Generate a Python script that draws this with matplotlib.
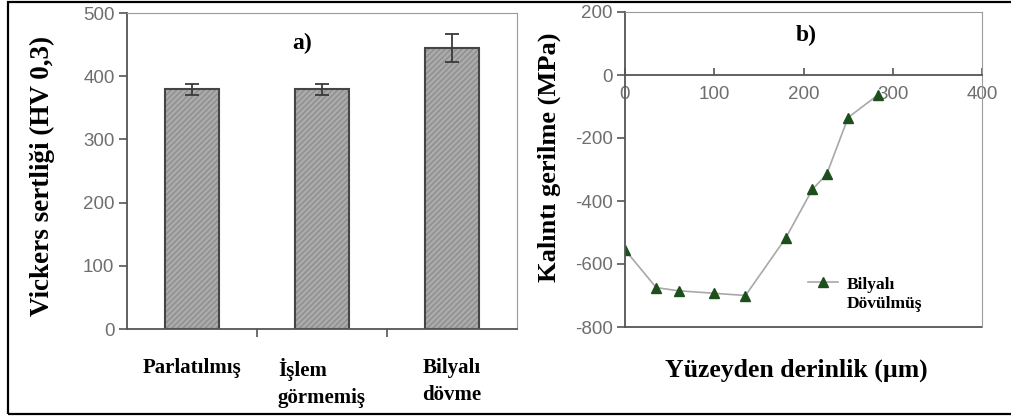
import numpy as np
import matplotlib
matplotlib.use("Agg")
from matplotlib import pyplot as plt
from matplotlib.patches import Rectangle
from matplotlib.lines import Line2D

# a) sertlik verisi
categories = ["Parlatılmış", "İşlem\ngörmemiş", "Bilyalı\ndövme"]
hardness = [379, 379, 445]
hardness_err = [8, 9, 22]

# b) kalıntı gerilme verisi
depth = [0, 35, 60, 100, 135, 180, 210, 226, 250, 284]
stress = [-555, -675, -685, -693, -700, -518, -363, -315, -135, -62]

plt.rcParams["axes.unicode_minus"] = False
serif = ["Liberation Serif", "DejaVu Serif"]
sans = ["Liberation Sans", "DejaVu Sans"]
tick_col = "#6e6e6e"

fig = plt.figure(figsize=(10.11, 4.16), dpi=100)

# dis cerceve
fig.patches.append(Rectangle((8 / 1011, 2 / 416), 1.1, 412 / 416, transform=fig.transFigure,
                             fill=False, edgecolor="black", linewidth=1.6))

# ---- a) ----
ax1 = fig.add_axes([127 / 1011, 87 / 416, 390 / 1011, 316 / 416])
x = np.arange(len(categories))
ax1.bar(x, hardness, width=0.41, color="#ababab", edgecolor="#8e8e8e", hatch="//////", linewidth=0)
ax1.bar(x, hardness, width=0.41, fill=False, edgecolor="#454545", linewidth=1.5)
ax1.errorbar(x, hardness, yerr=hardness_err, fmt="none", ecolor="#3a3a3a", elinewidth=1.3,
             capsize=5, capthick=1.3)
ax1.set_xlim(-0.5, 2.5)
ax1.set_ylim(0, 500)
ax1.set_yticks(np.arange(0, 501, 100))
ax1.set_xticks(x)
ax1.set_xticklabels(categories, family=serif, fontweight="bold", fontsize=15,
                    multialignment="left", va="top", linespacing=1.45)
ax1.set_xticks([0.5, 1.5], minor=True)
ax1.tick_params(axis="x", which="major", length=0, pad=21)
ax1.tick_params(axis="x", which="minor", length=6, width=1.2, color="#555555", direction="out")
ax1.tick_params(axis="y", length=6, width=1.2, color="#555555", labelcolor=tick_col, labelsize=13.5, pad=3)
for lab in ax1.get_yticklabels():
    lab.set_family(sans)
ax1.spines["left"].set_color("#555555")
ax1.spines["bottom"].set_color("#555555")
ax1.spines["left"].set_linewidth(1.3)
ax1.spines["bottom"].set_linewidth(1.3)
ax1.spines["top"].set_color("#9a9a9a")
ax1.spines["right"].set_color("#9a9a9a")
ax1.set_ylabel("Vickers sertliği (HV 0,3)", family=serif, fontweight="bold", fontsize=19.5)
ax1.yaxis.set_label_coords(-0.185, 0.484)
ax1.text(0.449, 0.905, "a)", transform=ax1.transAxes, ha="center", va="center",
         family=serif, fontweight="bold", fontsize=17)

# ---- b) ----
ax2 = fig.add_axes([625 / 1011, 89 / 416, 357 / 1011, 315 / 416])
ax2.plot(depth, stress, color="#a8a8a8", linewidth=1.2, marker="^", markersize=7,
         markerfacecolor="#1d4f1d", markeredgecolor="#1d4f1d", label="Bilyalı")
ax2.set_xlim(0, 400)
ax2.set_ylim(-800, 200)
ax2.set_xticks(np.arange(0, 401, 100))
ax2.set_yticks(np.arange(-800, 201, 200))
ax2.spines["bottom"].set_position(("data", 0))
ax2.spines["bottom"].set_color("#555555")
ax2.spines["bottom"].set_linewidth(1.3)
ax2.spines["left"].set_color("#555555")
ax2.spines["left"].set_linewidth(1.3)
ax2.spines["top"].set_color("#9a9a9a")
ax2.spines["right"].set_color("#9a9a9a")
ax2.add_line(Line2D([0, 1], [0, 0], transform=ax2.transAxes, color="#555555", linewidth=1.3,
                    clip_on=False))
ax2.tick_params(axis="x", direction="in", length=5, width=1.2, color="#555555",
                labelcolor=tick_col, labelsize=13.5, pad=8)
ax2.tick_params(axis="y", length=6, width=1.2, color="#555555", labelcolor=tick_col, labelsize=13.5, pad=3)
for lab in ax2.get_xticklabels() + ax2.get_yticklabels():
    lab.set_family(sans)
ax2.set_ylabel("Kalıntı gerilme (MPa)", family=serif, fontweight="bold", fontsize=19)
ax2.yaxis.set_label_coords(-0.18, 0.54)
ax2.text(0.48, -0.137, "Yüzeyden derinlik (µm)", transform=ax2.transAxes, ha="center", va="center",
         family=serif, fontweight="bold", fontsize=18.5)
ax2.text(0.507, 0.927, "b)", transform=ax2.transAxes, ha="center", va="center",
         family=serif, fontweight="bold", fontsize=17)
leg = ax2.legend(loc="center left", bbox_to_anchor=(0.47, 0.135), frameon=False, handlelength=1.7,
                 handletextpad=0.5, prop={"family": serif, "weight": "bold", "size": 12.5})

# legend etiketinin ikinci satiri, ilk satirin hemen altina
fig.canvas.draw()
bb = leg.get_texts()[0].get_window_extent().transformed(fig.transFigure.inverted())
fig.text(bb.x0, bb.y0 - 0.008, "Dövülmüş", ha="left", va="top",
         family=serif, fontweight="bold", fontsize=12.5)

fig.savefig("out.png", dpi=100)
